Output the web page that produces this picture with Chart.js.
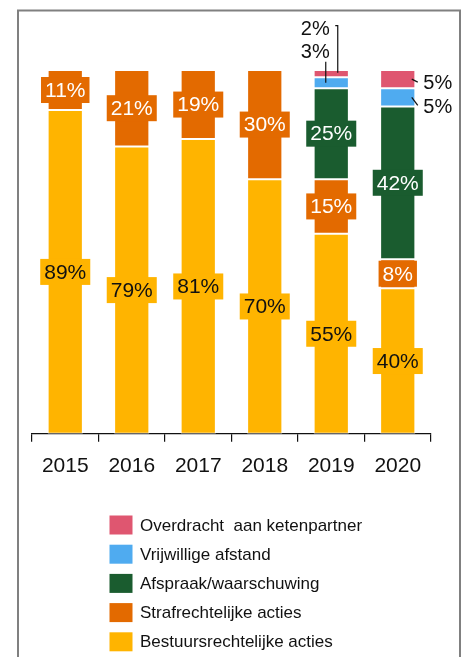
<!DOCTYPE html>
<html>
<head>
<meta charset="utf-8">
<script src="https://cdn.jsdelivr.net/npm/chart.js@4"></script>
<style>
html,body{margin:0;padding:0;background:#fff;}
#wrap{position:relative;width:462px;height:657px;}
</style>
</head>
<body>
<div id="wrap"><canvas id="c" width="462" height="657"></canvas></div>
<script>
const years = ['2015', '2016', '2017', '2018', '2019', '2020'];
const bestuursrechtelijk = [89, 79, 81, 70, 55, 40];
const strafrechtelijk = [11, 21, 19, 30, 15, 8];
const afspraak = [null, null, null, null, 25, 42];
const vrijwillig = [null, null, null, null, 3, 5];
const overdracht = [null, null, null, null, 2, 5];
const seriesNames = ['Bestuursrechtelijke acties', 'Strafrechtelijke acties', 'Afspraak/waarschuwing', 'Vrijwillige afstand', 'Overdracht  aan ketenpartner'];

const COLORS = ['#FFB400', '#E36A00', '#1A5C2F', '#4FABF0', '#DF5670'];
const TEXT_COLORS = ['#111', '#fff', '#fff', '#fff', '#fff'];
const FONT = '"Liberation Sans", Arial, sans-serif';

// placement of small labels drawn outside the bars (dataset, index) -> offsets from element
const OUTSIDE = {
  '3,4': {dx: -16, dy: -30, line: [[-5.5, -21], [-5.5, 0]]},
  '4,4': {dx: -16, dy: -44, line: [[4, -48], [6.5, -48], [6.5, -1]]},
  '3,5': {dx: 40, dy: 10.5, line: [[14, 0], [20, 8]]},
  '4,5': {dx: 40, dy: 4.5, line: [[14, 0], [20, 3]]}
};

const labelPlugin = {
  id: 'segLabels',
  afterDatasetsDraw(chart) {
    const ctx = chart.ctx;
    ctx.save();
    ctx.textBaseline = 'middle';
    chart.data.datasets.forEach((ds, di) => {
      const meta = chart.getDatasetMeta(di);
      meta.data.forEach((el, i) => {
        const v = ds.data[i];
        if (v == null) return;
        const txt = v + '%';
        const cx = el.x;
        const cy = (el.y + el.base) / 2;
        const key = di + ',' + i;
        if (OUTSIDE[key]) {
          const o = OUTSIDE[key];
          ctx.font = '20px ' + FONT;
          ctx.strokeStyle = '#111';
          ctx.lineWidth = 1.2;
          ctx.beginPath();
          o.line.forEach((p, k) => {
            if (k === 0) ctx.moveTo(cx + p[0], cy + p[1]);
            else ctx.lineTo(cx + p[0], cy + p[1]);
          });
          ctx.stroke();
          ctx.fillStyle = '#111';
          ctx.textAlign = 'center';
          ctx.fillText(txt, cx + o.dx, cy + o.dy);
        } else {
          ctx.font = '21px ' + FONT;
          const w = ctx.measureText(txt).width;
          const bw = w + 8, bh = 26;
          ctx.fillStyle = COLORS[di];
          ctx.fillRect(cx - bw / 2, cy - bh / 2, bw, bh);
          ctx.fillStyle = TEXT_COLORS[di];
          ctx.textAlign = 'center';
          ctx.fillText(txt, cx, cy + 1);
        }
      });
    });
    ctx.restore();
  }
};

const legendPlugin = {
  id: 'vertLegend',
  afterDraw(chart) {
    const ctx = chart.ctx;
    ctx.save();
    ctx.font = '17px ' + FONT;
    ctx.textBaseline = 'middle';
    ctx.textAlign = 'left';
    const n = chart.data.datasets.length;
    for (let k = 0; k < n; k++) {
      const di = n - 1 - k;
      const ds = chart.data.datasets[di];
      const y = 525 + k * 29.2;
      ctx.fillStyle = ds.backgroundColor;
      ctx.fillRect(109.5, y - 9.5, 23, 19);
      ctx.fillStyle = '#111';
      ctx.fillText(ds.label, 140, y + 1);
    }
    ctx.restore();
  }
};

const framePlugin = {
  id: 'frame',
  afterDraw(chart) {
    const ctx = chart.ctx;
    ctx.save();
    ctx.strokeStyle = '#808080';
    ctx.lineWidth = 2;
    ctx.beginPath();
    ctx.moveTo(18, 657);
    ctx.lineTo(18, 10.5);
    ctx.lineTo(460, 10.5);
    ctx.lineTo(460, 657);
    ctx.stroke();
    ctx.restore();
  }
};

const seriesData = [bestuursrechtelijk, strafrechtelijk, afspraak, vrijwillig, overdracht];

new Chart(document.getElementById('c'), {
  type: 'bar',
  data: {
    labels: years,
    datasets: seriesData.map((d, i) => ({
      label: seriesNames[i],
      data: d,
      backgroundColor: COLORS[i],
      borderColor: 'rgba(255,255,255,0.85)',
      borderWidth: 1,
      borderSkipped: false,
      categoryPercentage: 1,
      barPercentage: 0.53
    }))
  },
  options: {
    responsive: false,
    animation: false,
    devicePixelRatio: 1,
    layout: {padding: {left: 32, right: 31, top: 70, bottom: 166}},
    plugins: {legend: {display: false}, tooltip: {enabled: false}},
    scales: {
      x: {
        stacked: true,
        grid: {display: true, drawOnChartArea: false, drawTicks: true, tickLength: 8, color: '#111', lineWidth: 1.2},
        border: {display: true, color: '#111', width: 1.2},
        ticks: {color: '#111', font: {family: FONT, size: 21}, padding: 12}
      },
      y: {
        stacked: true,
        display: false,
        min: 0,
        max: 100
      }
    }
  },
  plugins: [labelPlugin, legendPlugin, framePlugin]
});
</script>
</body>
</html>
